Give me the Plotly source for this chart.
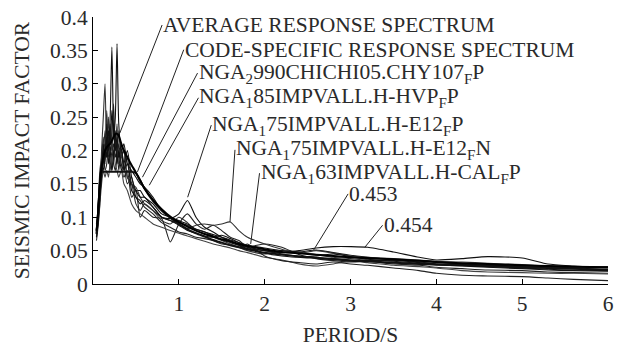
import plotly.graph_objects as go

period = [0.04, 0.05, 0.08, 0.1, 0.12, 0.14, 0.16, 0.18, 0.2, 0.22, 0.24, 0.26, 0.28, 0.3, 0.33, 0.36,
          0.4, 0.45, 0.5, 0.55, 0.6, 0.7, 0.8, 0.9, 1.0, 1.1, 1.2, 1.3, 1.4, 1.5, 1.6, 1.7, 1.8,
          2.0, 2.2, 2.4, 2.6, 2.8, 3.0, 3.2, 3.5, 3.8, 4.0, 4.3, 4.6, 5.0, 5.3, 5.6, 6.0]

average = [0.08, 0.09, 0.15, 0.175, 0.19, 0.2, 0.205, 0.208, 0.21, 0.215, 0.22, 0.225, 0.225, 0.222, 0.21, 0.2,
           0.19, 0.178, 0.167, 0.155, 0.143, 0.126, 0.112, 0.101, 0.093, 0.086, 0.08, 0.075, 0.071, 0.067, 0.064, 0.06, 0.057,
           0.052, 0.048, 0.046, 0.044, 0.042, 0.04, 0.039, 0.037, 0.035, 0.033, 0.031, 0.03, 0.028, 0.027, 0.026, 0.025]

code = [0.075, 0.09, 0.14, 0.168, 0.168, 0.168, 0.168, 0.168, 0.168, 0.168, 0.168, 0.168, 0.168, 0.168, 0.168, 0.168,
        0.168, 0.168, 0.166, 0.155, 0.143, 0.124, 0.11, 0.099, 0.09, 0.082, 0.076, 0.071, 0.066, 0.062, 0.058, 0.055, 0.052,
        0.047, 0.044, 0.041, 0.039, 0.037, 0.035, 0.034, 0.032, 0.03, 0.029, 0.028, 0.027, 0.025, 0.024, 0.023, 0.021]

rec_chichi = [0.07, 0.08, 0.13, 0.16, 0.18, 0.2, 0.19, 0.23, 0.21, 0.26, 0.22, 0.25, 0.36, 0.24, 0.2, 0.21,
              0.18, 0.17, 0.16, 0.15, 0.145, 0.13, 0.11, 0.1, 0.095, 0.09, 0.082, 0.078, 0.072, 0.066, 0.062, 0.058, 0.055,
              0.05, 0.047, 0.05, 0.054, 0.056, 0.056, 0.055, 0.048, 0.04, 0.036, 0.038, 0.041, 0.039, 0.03, 0.027, 0.024]

rec_hvp = [0.08, 0.09, 0.15, 0.17, 0.21, 0.18, 0.24, 0.2, 0.25, 0.355, 0.23, 0.2, 0.22, 0.19, 0.21, 0.17,
           0.19, 0.14, 0.13, 0.12, 0.125, 0.115, 0.1, 0.095, 0.088, 0.08, 0.076, 0.072, 0.07, 0.073, 0.068, 0.062, 0.055,
           0.046, 0.042, 0.04, 0.042, 0.045, 0.041, 0.037, 0.034, 0.031, 0.029, 0.027, 0.025, 0.023, 0.021, 0.02, 0.019]

rec_a = [0.065, 0.075, 0.12, 0.2, 0.25, 0.3, 0.2, 0.25, 0.19, 0.23, 0.27, 0.2, 0.24, 0.18, 0.19, 0.2,
         0.16, 0.15, 0.12, 0.11, 0.12, 0.11, 0.095, 0.09, 0.1, 0.092, 0.08, 0.075, 0.07, 0.065, 0.06, 0.055, 0.05,
         0.045, 0.05, 0.048, 0.044, 0.04, 0.038, 0.036, 0.035, 0.034, 0.032, 0.03, 0.028, 0.026, 0.025, 0.025, 0.026]

rec_e12p = [0.09, 0.1, 0.16, 0.18, 0.17, 0.19, 0.22, 0.18, 0.2, 0.17, 0.19, 0.23, 0.18, 0.2, 0.17, 0.18,
            0.2, 0.16, 0.14, 0.13, 0.13, 0.115, 0.1, 0.098, 0.105, 0.125, 0.1, 0.085, 0.078, 0.07, 0.064, 0.058, 0.053,
            0.05, 0.045, 0.042, 0.04, 0.038, 0.036, 0.035, 0.036, 0.033, 0.03, 0.028, 0.026, 0.024, 0.022, 0.021, 0.02]

rec_b = [0.07, 0.085, 0.14, 0.16, 0.2, 0.17, 0.18, 0.21, 0.17, 0.2, 0.18, 0.17, 0.19, 0.21, 0.18, 0.16,
         0.17, 0.13, 0.14, 0.1, 0.11, 0.1, 0.098, 0.063, 0.09, 0.105, 0.09, 0.082, 0.088, 0.08, 0.07, 0.065, 0.056,
         0.06, 0.055, 0.044, 0.038, 0.035, 0.033, 0.034, 0.03, 0.028, 0.025, 0.023, 0.021, 0.02, 0.018, 0.017, 0.016]

rec_e12n = [0.08, 0.09, 0.17, 0.19, 0.22, 0.19, 0.26, 0.21, 0.23, 0.2, 0.24, 0.21, 0.19, 0.23, 0.19, 0.2,
            0.16, 0.15, 0.145, 0.13, 0.12, 0.11, 0.1, 0.095, 0.09, 0.083, 0.088, 0.09, 0.088, 0.09, 0.093, 0.08, 0.07,
            0.06, 0.052, 0.046, 0.05, 0.046, 0.042, 0.04, 0.038, 0.036, 0.034, 0.033, 0.031, 0.029, 0.027, 0.026, 0.025]

rec_cal = [0.075, 0.08, 0.13, 0.17, 0.19, 0.23, 0.2, 0.19, 0.24, 0.2, 0.21, 0.19, 0.2, 0.17, 0.2, 0.18,
           0.15, 0.16, 0.13, 0.125, 0.115, 0.105, 0.092, 0.085, 0.078, 0.075, 0.07, 0.068, 0.065, 0.06, 0.058, 0.055, 0.06,
           0.042, 0.035, 0.032, 0.03, 0.033, 0.03, 0.028, 0.024, 0.02, 0.016, 0.013, 0.012, 0.011, 0.009, 0.007, 0.005]

rec_453 = [0.085, 0.095, 0.16, 0.18, 0.2, 0.21, 0.19, 0.22, 0.2, 0.21, 0.19, 0.22, 0.2, 0.19, 0.2, 0.17,
           0.18, 0.15, 0.14, 0.14, 0.13, 0.12, 0.105, 0.1, 0.092, 0.088, 0.082, 0.078, 0.074, 0.07, 0.066, 0.062, 0.058,
           0.054, 0.05, 0.048, 0.051, 0.047, 0.043, 0.04, 0.036, 0.032, 0.03, 0.029, 0.028, 0.027, 0.026, 0.024, 0.022]

rec_c = [0.07, 0.08, 0.12, 0.15, 0.17, 0.16, 0.17, 0.16, 0.18, 0.17, 0.2, 0.18, 0.17, 0.16, 0.17, 0.15,
         0.14, 0.12, 0.11, 0.105, 0.1, 0.09, 0.085, 0.08, 0.076, 0.072, 0.068, 0.064, 0.06, 0.057, 0.054, 0.05, 0.047,
         0.04, 0.036, 0.03, 0.027, 0.03, 0.034, 0.032, 0.028, 0.026, 0.024, 0.02, 0.018, 0.017, 0.016, 0.016, 0.015]

labels = ["AVERAGE RESPONSE SPECTRUM",
          "CODE-SPECIFIC RESPONSE SPECTRUM",
          "NGA<sub>2</sub>990CHICHI05.CHY107<sub>F</sub>P",
          "NGA<sub>1</sub>85IMPVALL.H-HVP<sub>F</sub>P",
          "NGA<sub>1</sub>75IMPVALL.H-E12<sub>F</sub>P",
          "NGA<sub>1</sub>75IMPVALL.H-E12<sub>F</sub>N",
          "NGA<sub>1</sub>63IMPVALL.H-CAL<sub>F</sub>P",
          "0.453",
          "0.454"]
label_point_x = [0.312, 0.518, 0.576, 0.656, 1.103, 1.596, 1.837, 2.571, 3.167]
label_point_y = [0.226, 0.168, 0.160, 0.148, 0.130, 0.093, 0.060, 0.051, 0.055]
label_text_x = [0.805, 1.057, 1.218, 1.229, 1.378, 1.654, 1.940, 2.972, 3.374]
label_text_y = [0.388, 0.351, 0.316, 0.279, 0.238, 0.201, 0.166, 0.135, 0.088]

FONT = "Liberation Serif, Times New Roman, serif"
TXT = "#2a2a2a"

fig = go.Figure()
records = [(rec_a, "#333"), (rec_b, "#222"), (rec_c, "#444"), (rec_453, "#111"), (rec_cal, "#222"),
           (rec_e12n, "#333"), (rec_e12p, "#111"), (rec_hvp, "#111"), (rec_chichi, "#111")]
for vals, col in records:
    fig.add_trace(go.Scatter(x=period, y=vals, mode="lines",
                             line=dict(color=col, width=1.1, shape="spline", smoothing=0.6),
                             showlegend=False, hoverinfo="skip"))
fig.add_trace(go.Scatter(x=period, y=code, mode="lines",
                         line=dict(color="#111", width=2, shape="spline", smoothing=0.6),
                         showlegend=False))
fig.add_trace(go.Scatter(x=period, y=average, mode="lines",
                         line=dict(color="#000", width=2, shape="spline", smoothing=0.6),
                         showlegend=False))

for t, px, py, tx, ty in zip(labels, label_point_x, label_point_y, label_text_x, label_text_y):
    fig.add_annotation(x=px, y=py, ax=tx, ay=ty, axref="x", ayref="y", xref="x", yref="y",
                       text=t, showarrow=True, arrowhead=0, arrowwidth=1, arrowcolor="#222",
                       xanchor="left", yanchor="middle", borderpad=0,
                       font=dict(family=FONT, size=21.5, color=TXT))

fig.update_layout(
    width=618, height=347,
    margin=dict(l=93, r=4, t=17, b=63),
    paper_bgcolor="white", plot_bgcolor="white",
    font=dict(family=FONT, size=21.5, color=TXT),
    xaxis=dict(range=[0, 6], tickvals=[1, 2, 3, 4, 5, 6], ticks="inside", ticklen=5,
               tickcolor="#000", showline=True, linecolor="#000", linewidth=1,
               showgrid=False, zeroline=False, ticklabeloverflow="allow",
               title=dict(text="PERIOD/S", font=dict(size=21.5), standoff=12)),
    yaxis=dict(range=[0, 0.4], tickvals=[0, 0.05, 0.1, 0.15, 0.2, 0.25, 0.3, 0.35, 0.4],
               ticktext=["0", "0.05", "0.1", "0.15", "0.2", "0.25", "0.3", "0.35", "0.4"],
               ticks="inside", ticklen=5, tickcolor="#000", showline=True, linecolor="#000",
               linewidth=1, showgrid=False, zeroline=False,
               title=dict(text="SEISMIC IMPACT FACTOR", font=dict(size=21.5), standoff=14)),
)

fig.write_html("out.html")
